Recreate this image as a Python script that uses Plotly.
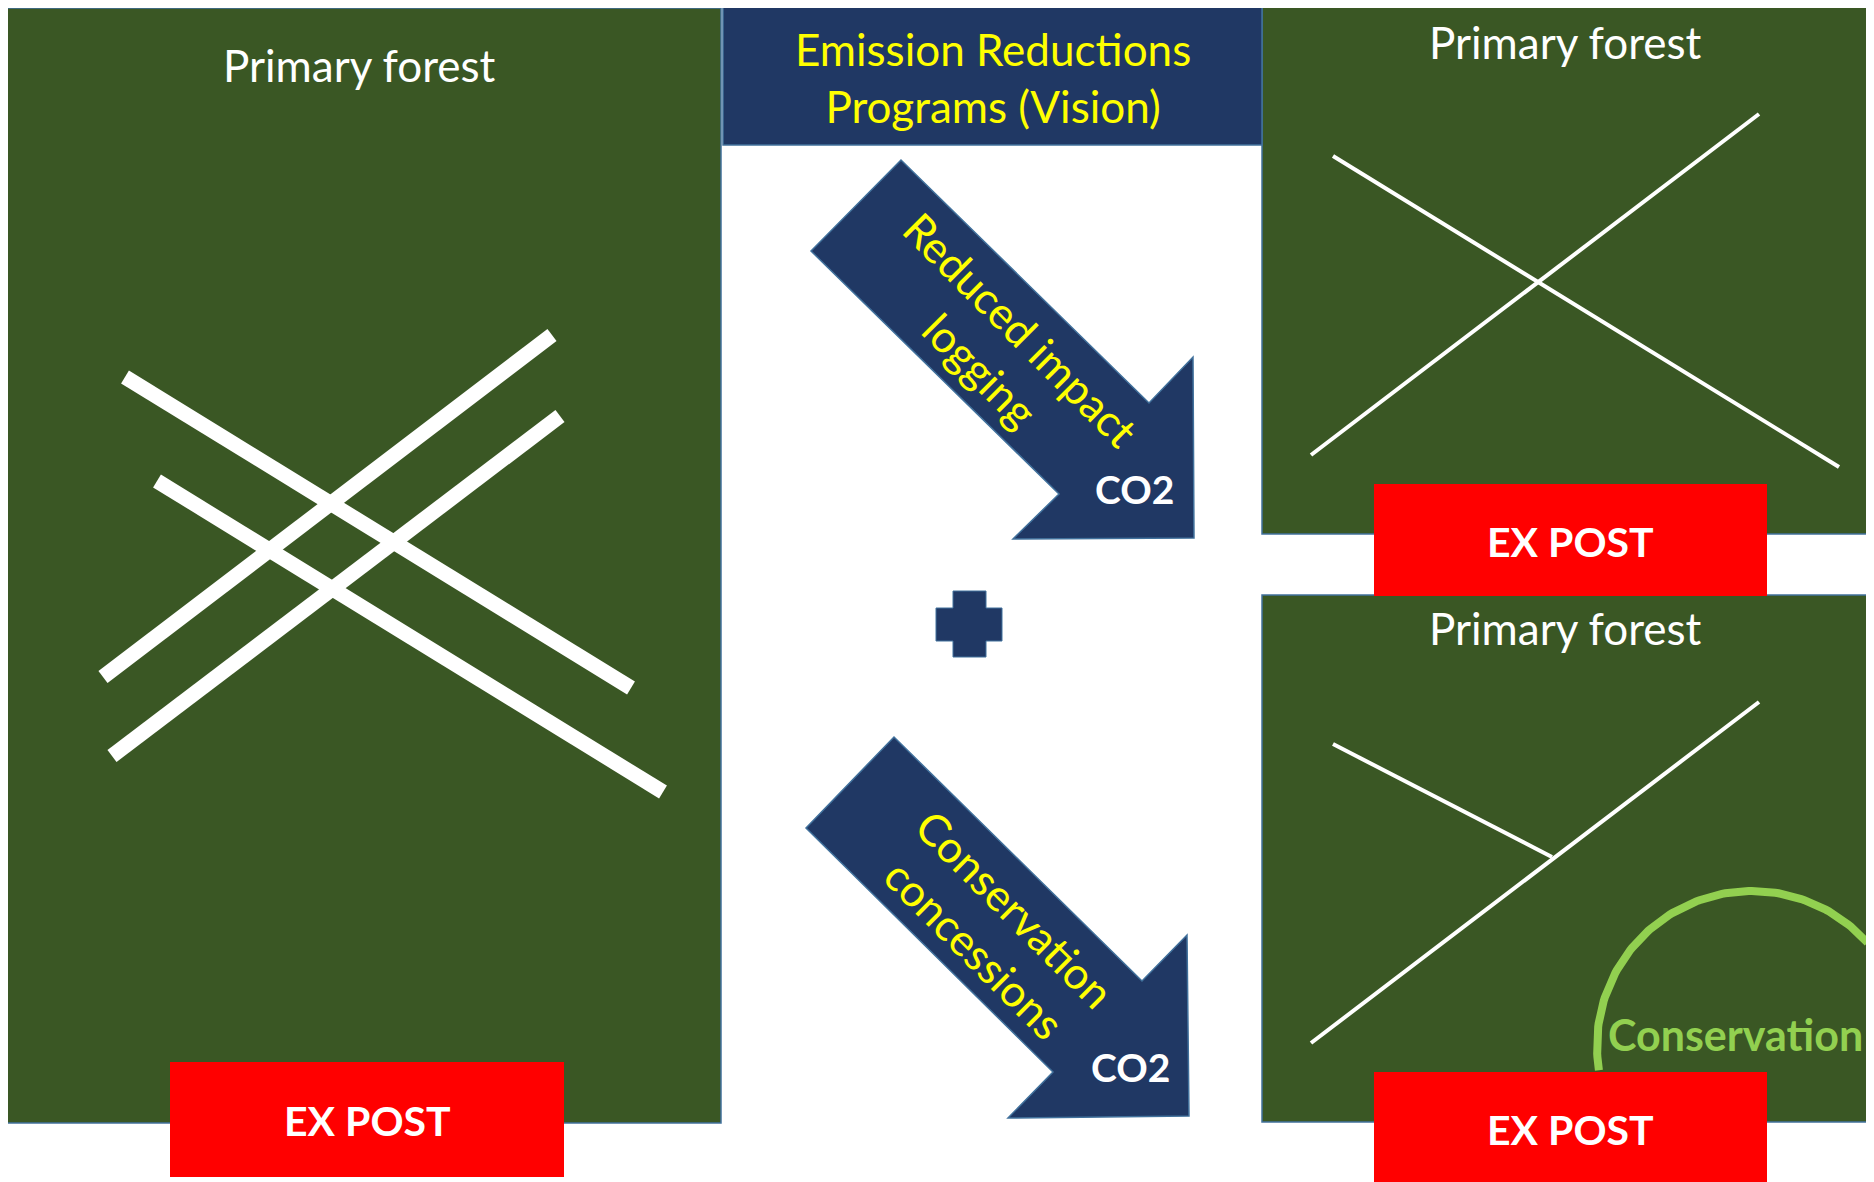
import numpy as np
import plotly.graph_objects as go

W, H = 1874, 1182
PAGE_MARGIN = 8  # default body margin of the html page

FOREST = "#3A5724"
NAVY = "#203864"
EDGE = "#41719C"
RED = "#FF0000"
YELLOW = "#FFFF00"
LIGHT_GREEN = "#92D050"
FONT = "Lato"

# --- diagram geometry (pixel space, y downward) ---
panel_x0 = [4, 1262, 1262]
panel_y0 = [8, 7, 595]
panel_x1 = [721, 1873, 1873]
panel_y1 = [1123, 534, 1122]
panel_title_x = [359, 1565, 1565]
panel_title_y = [65, 42, 628]
panel_title = ["Primary forest", "Primary forest", "Primary forest"]

header_box = [723, 6, 1262, 145]
header_lines = ["Emission Reductions", "Programs (Vision)"]
header_center = [993, 77]

expost_x0 = [170, 1374, 1374]
expost_y0 = [1062, 484, 1072]
expost_x1 = [564, 1767, 1767]
expost_y1 = [1177, 596, 1182]
expost_text_y = [1120, 541, 1129]
expost_label = "EX POST"

# thick logging roads (left panel)
thick_x0 = [125, 157, 103, 112]
thick_y0 = [377, 481, 677, 756]
thick_x1 = [631, 663, 552, 560]
thick_y1 = [688, 792, 335, 416]

# thin roads (right panels)
thin_x0 = [1333, 1311, 1333, 1311]
thin_y0 = [156, 455, 744, 1043]
thin_x1 = [1839, 1759, 1552, 1759]
thin_y1 = [467, 114, 857, 702]

# block arrows
arrow1_x = [811, 901, 1149, 1193, 1194, 1013, 1059]
arrow1_y = [251, 160, 403, 357, 538, 539, 494]
arrow2_x = [806, 894, 1142, 1187, 1189, 1008, 1053]
arrow2_y = [828, 737, 981, 935, 1116, 1118, 1072]
arrow_text = ["Reduced impact<br>logging", "Conservation<br>concessions"]
arrow_text_x = [1001, 995]
arrow_text_y = [349, 928]
co2_x = [1134, 1130]
co2_y = [489, 1067]

# plus sign
plus_x = [953, 986, 986, 1002, 1002, 986, 986, 953, 953, 936, 936, 953]
plus_y = [591, 591, 608, 608, 641, 641, 657, 657, 641, 641, 608, 608]

# conservation arc
arc_center = [1752, 1046]
arc_radius = 155
arc_deg = [41.8, 189.0]
cons_label = "Conservation"
cons_xy = [1735, 1034]


def poly_path(xs, ys):
    pts = " L ".join(f"{x},{y}" for x, y in zip(xs, ys))
    return f"M {pts} Z"


fig = go.Figure()
shapes = []
annotations = []

# panels
for x0, y0, x1, y1 in zip(panel_x0, panel_y0, panel_x1, panel_y1):
    shapes.append(dict(type="rect", x0=x0, y0=y0, x1=x1, y1=y1,
                       fillcolor=FOREST, line=dict(color=EDGE, width=1.5), layer="below"))

# header box
shapes.append(dict(type="rect", x0=header_box[0], y0=header_box[1], x1=header_box[2], y1=header_box[3],
                   fillcolor=NAVY, line=dict(color=EDGE, width=1.5), layer="below"))

# thick roads
for x0, y0, x1, y1 in zip(thick_x0, thick_y0, thick_x1, thick_y1):
    shapes.append(dict(type="line", x0=x0, y0=y0, x1=x1, y1=y1,
                       line=dict(color="white", width=15)))

# thin roads
for x0, y0, x1, y1 in zip(thin_x0, thin_y0, thin_x1, thin_y1):
    shapes.append(dict(type="line", x0=x0, y0=y0, x1=x1, y1=y1,
                       line=dict(color="white", width=4)))

# arrows
for ax, ay in [(arrow1_x, arrow1_y), (arrow2_x, arrow2_y)]:
    shapes.append(dict(type="path", path=poly_path(ax, ay), fillcolor=NAVY,
                       line=dict(color=EDGE, width=1.5)))

# plus sign
shapes.append(dict(type="path", path=poly_path(plus_x, plus_y), fillcolor=NAVY,
                   line=dict(color=EDGE, width=1)))

# ex post boxes
for x0, y0, x1, y1, ty in zip(expost_x0, expost_y0, expost_x1, expost_y1, expost_text_y):
    shapes.append(dict(type="rect", x0=x0, y0=y0, x1=x1, y1=y1,
                       fillcolor=RED, line=dict(width=0)))
    annotations.append(dict(x=(x0 + x1) / 2, y=ty,
                            text=f"<b>{expost_label}</b>", showarrow=False,
                            font=dict(family=FONT, size=41, color="white"),
                            xanchor="center", yanchor="middle"))

# arc
theta = np.radians(np.linspace(arc_deg[0], arc_deg[1], 120))
fig.add_trace(go.Scatter(x=arc_center[0] + arc_radius * np.cos(theta),
                         y=arc_center[1] - arc_radius * np.sin(theta),
                         mode="lines", line=dict(color=LIGHT_GREEN, width=8),
                         hoverinfo="skip", showlegend=False))

# panel titles
for tx, ty, t in zip(panel_title_x, panel_title_y, panel_title):
    annotations.append(dict(x=tx, y=ty, text=t, showarrow=False,
                            font=dict(family=FONT, size=44, color="white"),
                            xanchor="center", yanchor="middle"))

# header text
annotations.append(dict(x=header_center[0], y=header_center[1], text="<br>".join(header_lines),
                        showarrow=False, font=dict(family=FONT, size=44, color=YELLOW),
                        xanchor="center", yanchor="middle"))

# arrow texts
for tx, ty, t in zip(arrow_text_x, arrow_text_y, arrow_text):
    annotations.append(dict(x=tx, y=ty, text=t, showarrow=False, textangle=45,
                            font=dict(family=FONT, size=44, color=YELLOW),
                            xanchor="center", yanchor="middle"))
for cx, cy in zip(co2_x, co2_y):
    annotations.append(dict(x=cx, y=cy, text="<b>CO2</b>", showarrow=False,
                            font=dict(family=FONT, size=39, color="white"),
                            xanchor="center", yanchor="middle"))

annotations.append(dict(x=cons_xy[0], y=cons_xy[1], text=f"<b>{cons_label}</b>", showarrow=False,
                        font=dict(family=FONT, size=43, color=LIGHT_GREEN),
                        xanchor="center", yanchor="middle"))

fig.update_layout(
    width=W - PAGE_MARGIN, height=H - PAGE_MARGIN,
    margin=dict(l=0, r=0, t=0, b=0),
    paper_bgcolor="white", plot_bgcolor="white",
    xaxis=dict(range=[PAGE_MARGIN, W], visible=False, fixedrange=True),
    yaxis=dict(range=[H, PAGE_MARGIN], visible=False, fixedrange=True),
    shapes=shapes, annotations=annotations,
    showlegend=False,
)

fig.write_html("out.html")
